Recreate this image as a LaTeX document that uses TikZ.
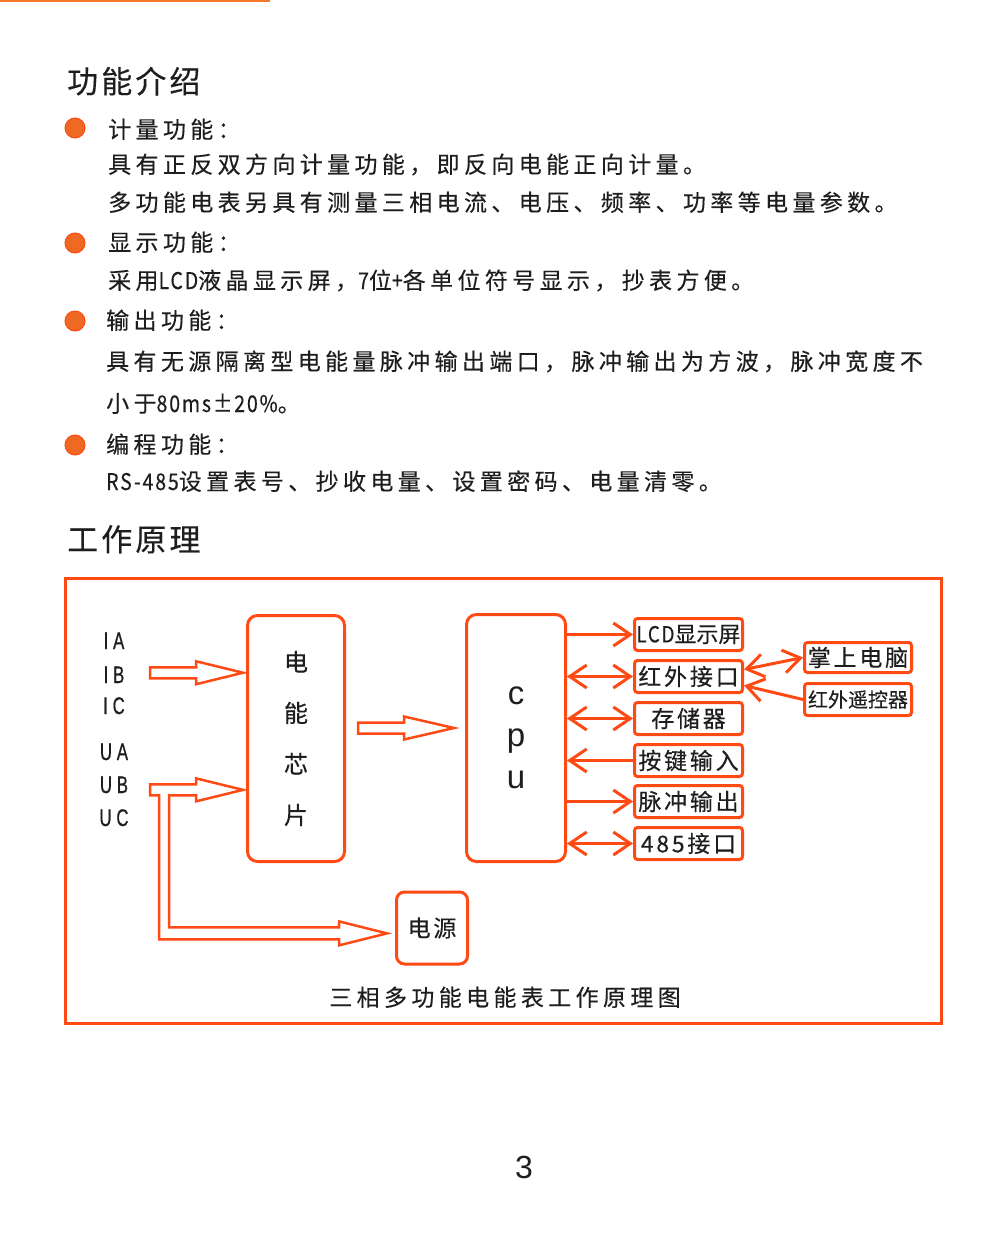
\documentclass[tikz,border=0pt]{standalone}
\usepackage{fontspec}
\usepackage{tikz}
\usetikzlibrary{arrows.meta,positioning,calc}
\setmainfont{Liberation Sans}
\newfontfamily\cjk[FakeBold=0.3]{Noto Sans CJK SC}
\newfontfamily\cjkwide[LetterSpace=19,FakeBold=0.3]{Noto Sans CJK SC}
\newfontfamily\cjkhead[LetterSpace=10,FakeBold=0.3]{Noto Sans CJK SC}
\newfontfamily\cjkbox[LetterSpace=12,FakeBold=0.3]{Noto Sans CJK SC}
\newfontfamily\narrowsans[FakeStretch=0.7,LetterSpace=20,FakeBold=0.6]{Liberation Sans}
\newfontfamily\narrowlat[FakeStretch=0.85,LetterSpace=8,FakeBold=0.3]{Noto Sans CJK SC}
\newcommand{\lat}[1]{{\narrowlat #1}}
\definecolor{framered}{RGB}{255,74,20}
\definecolor{dotorange}{RGB}{238,106,34}
\definecolor{topline}{RGB}{245,120,40}
\definecolor{ink}{RGB}{30,30,30}

\begin{document}
\begin{tikzpicture}[x=1pt, y=-1pt,
  heading/.style={anchor=base west, inner sep=0pt, text=ink, font=\cjkhead\fontsize{31}{36}\selectfont},
  bodyline/.style={anchor=base west, inner sep=0pt, text=ink, font=\cjkwide\fontsize{23}{26}\selectfont},
  bullet/.style={circle, draw=framered, fill=dotorange, line width=1pt, minimum size=20pt, inner sep=0pt},
  chipbox/.style={draw=framered, line width=3pt, rounded corners=10pt, fill=white, text=ink, align=center, minimum width=97pt, minimum height=246pt, inner sep=0pt},
  unitbox/.style={draw=framered, line width=3pt, rounded corners=3pt, fill=white, minimum width=108pt, minimum height=32pt, inner sep=0pt, text=ink, font=\cjkbox\fontsize{23}{26}\selectfont},
  sigl/.style={anchor=base, inner sep=0pt, text=ink, font=\narrowsans\fontsize{24}{26}\selectfont},
  fat/.style={draw=framered, line width=2.5pt, fill=white, line join=miter},
  flow/.style={draw=framered, line width=3pt, -{Straight Barb[length=17pt,width=23pt]}},
  bothflow/.style={flow, {Straight Barb[length=17pt,width=23pt]}-{Straight Barb[length=17pt,width=23pt]}}
]
\useasboundingbox (0,0) rectangle (1005,1241);

% page head
\draw[topline, line width=2.5pt] (0,1) -- (270,1);
\node[heading] (introhead) at (67,93) {功能介绍};

\node[bullet] (b1) at (75,128) {};
\node[bodyline] (t1) at (108,138) {计量功能：};
\node[bodyline] (l1) at (108,173) {具有正反双方向计量功能，即反向电能正向计量。};
\node[bodyline] (l2) at (108,211) {多功能电表另具有测量三相电流、电压、频率、功率等电量参数。};
\node[bullet] (b2) at (75,243) {};
\node[bodyline] (t2) at (108,251) {显示功能：};
\node[bodyline] (l3) at (108,289) {采用\lat{LCD}液晶显示屏，\lat{7}位\lat{+}各单位符号显示，抄表方便。};
\node[bullet] (b3) at (75,321) {};
\node[bodyline] (t3) at (106,329) {输出功能：};
\node[bodyline] (l4) at (106,370) {具有无源隔离型电能量脉冲输出端口，脉冲输出为方波，脉冲宽度不};
\node[bodyline] (l5) at (106,412) {小于\lat{80ms±20\%}。};
\node[bullet] (b4) at (75,445) {};
\node[bodyline] (t4) at (106,453) {编程功能：};
\node[bodyline] (l6) at (106,490) {\lat{RS-485}设置表号、抄收电量、设置密码、电量清零。};

\node[heading] (workhead) at (67,551) {工作原理};

% diagram frame
\draw[framered, line width=3pt] (65.5,578.5) rectangle (941.5,1023);

\node[sigl] (ia) at (114,649) {IA};
\node[sigl] (ib) at (114,683) {IB};
\node[sigl] (ic) at (114,714) {IC};
\node[sigl] (ua) at (114,760) {UA};
\node[sigl] (ub) at (114,793) {UB};
\node[sigl] (uc) at (114,826) {UC};

\node[chipbox, font=\cjk\fontsize{24}{51}\selectfont] (chip) at (296,738.5) {电\\能\\芯\\片};
\node[chipbox, minimum width=99pt, minimum height=247pt, font=\fontsize{33}{42}\selectfont] (cpu) at (516,738) {c\\p\\u};

\node[unitbox, font=\narrowlat\fontsize{22}{26}\selectfont] (lcd) at (688.5,634.5) {LCD{\cjk 显示屏}};
\node[unitbox] (ir) at (688.5,676.5) {红外接口};
\node[unitbox] (mem) at (688.5,718.5) {存储器};
\node[unitbox] (key) at (688.5,760.5) {按键输入};
\node[unitbox] (pulse) at (688.5,801.5) {脉冲输出};
\node[unitbox] (rs) at (688.5,843.5) {485接口};
\node[unitbox, minimum width=107pt, minimum height=30pt] (pda) at (858,657.5) {掌上电脑};
\node[unitbox, minimum width=107pt, font=\cjk\fontsize{20}{24}\selectfont] (remote) at (858,699.5) {红外遥控器};
\node[unitbox, rounded corners=8pt, minimum width=71pt, minimum height=72pt] (power) at (432,928) {电源};

\node[bodyline, anchor=base] (caption) at (505,1006) {三相多功能电能表工作原理图};

% hollow arrows
\draw[fat] ($(chip.west |- ib)+(-3,-2)$) -- ++(-47,-11.5) -- ++(0,6) -- ++(-46,0)
  -- ++(0,11) -- ++(46,0) -- ++(0,6) -- cycle;
\draw[fat] ($(chip.west |- ub)+(-3,5)$) -- ++(-47,-11.5) -- ++(0,6) -- ++(-46,0)
  -- ++(0,11) -- ++(9,0) -- ++(0,144) -- ++(180,0) -- ++(0,6) -- ++(48,-12)
  -- ++(-48,-12) -- ++(0,6) -- ++(-170,0) -- ++(0,-132) -- ++(27,0) -- ++(0,6) -- cycle;
\draw[fat] ($(cpu.west)+(-11,-10)$) -- ++(-50,-11.5) -- ++(0,6) -- ++(-46,0)
  -- ++(0,11) -- ++(46,0) -- ++(0,6) -- cycle;

% Connections
\draw[flow] (cpu.east |- lcd) -- (lcd.west);
\draw[bothflow] (cpu.east |- ir) -- (ir.west);
\draw[bothflow] (cpu.east |- mem) -- (mem.west);
\draw[flow] (key.west) -- (cpu.east |- key);
\draw[flow] (cpu.east |- pulse) -- (pulse.west);
\draw[bothflow] (cpu.east |- rs) -- (rs.west);
\draw[bothflow] ([yshift=7pt]ir.east) -- (pda.west);
\draw[flow] (remote.west) -- ([yshift=-9pt]ir.east);

% page number
\node[text=ink, font=\fontsize{32}{36}\selectfont] (pageno) at (524,1167) {3};
\end{tikzpicture}
\end{document}
